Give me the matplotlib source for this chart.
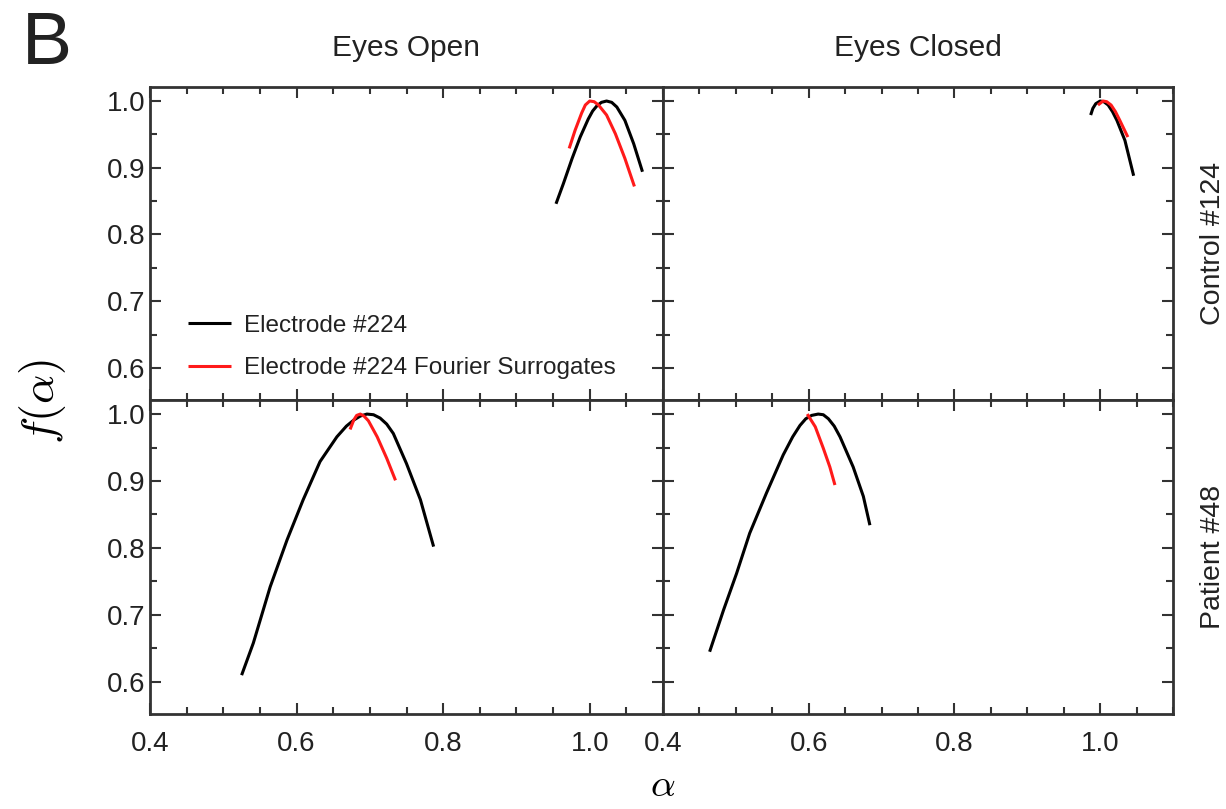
import matplotlib
matplotlib.use("Agg")
import matplotlib.pyplot as plt
from matplotlib.ticker import MultipleLocator

plt.rcParams['font.family'] = ['Liberation Sans', 'DejaVu Sans']
plt.rcParams['mathtext.fontset'] = 'cm'

col_titles = ["Eyes Open", "Eyes Closed"]
row_titles = ["Control #124", "Patient #48"]
legend_labels = ["Electrode #224", "Electrode #224 Fourier Surrogates"]

# Control, eyes open
c_eo_alpha = [0.954, 0.964, 0.976, 0.987, 0.998, 1.004, 1.010, 1.016, 1.023, 1.030, 1.037, 1.048, 1.060, 1.072]
c_eo_f = [0.846, 0.876, 0.914, 0.946, 0.973, 0.985, 0.993, 0.998, 1.000, 0.998, 0.991, 0.971, 0.936, 0.894]
c_eo_s_alpha = [0.972, 0.980, 0.989, 0.994, 1.000, 1.006, 1.012, 1.023, 1.035, 1.048, 1.061]
c_eo_s_f = [0.929, 0.956, 0.982, 0.994, 1.000, 0.999, 0.994, 0.979, 0.951, 0.914, 0.872]
# Control, eyes closed
c_ec_alpha = [0.987, 0.990, 0.994, 1.000, 1.005, 1.011, 1.017, 1.023, 1.034, 1.046]
c_ec_f = [0.979, 0.989, 0.996, 1.000, 0.999, 0.994, 0.984, 0.971, 0.941, 0.888]
c_ec_s_alpha = [0.997, 1.004, 1.009, 1.015, 1.021, 1.027, 1.038]
c_ec_s_f = [0.994, 1.000, 0.999, 0.994, 0.984, 0.971, 0.946]
# Patient, eyes open
p_eo_alpha = [0.525, 0.541, 0.564, 0.587, 0.609, 0.632, 0.655, 0.668, 0.678, 0.687, 0.696, 0.705, 0.714, 0.723, 0.732, 0.750, 0.769, 0.787]
p_eo_f = [0.610, 0.658, 0.742, 0.812, 0.872, 0.929, 0.966, 0.982, 0.991, 0.997, 1.000, 0.999, 0.994, 0.985, 0.971, 0.926, 0.872, 0.802]
p_eo_s_alpha = [0.673, 0.678, 0.682, 0.687, 0.692, 0.698, 0.710, 0.723, 0.735]
p_eo_s_f = [0.977, 0.991, 0.998, 1.000, 0.997, 0.990, 0.966, 0.934, 0.901]
# Patient, eyes closed
p_ec_alpha = [0.464, 0.483, 0.501, 0.519, 0.542, 0.565, 0.578, 0.588, 0.596, 0.604, 0.613, 0.620, 0.627, 0.635, 0.643, 0.661, 0.675, 0.684]
p_ec_f = [0.645, 0.707, 0.762, 0.822, 0.882, 0.939, 0.966, 0.983, 0.993, 0.998, 1.000, 0.999, 0.993, 0.982, 0.966, 0.921, 0.877, 0.834]
p_ec_s_alpha = [0.598, 0.609, 0.620, 0.629, 0.636]
p_ec_s_f = [1.000, 0.981, 0.949, 0.921, 0.894]

data = [[(c_eo_alpha, c_eo_f, c_eo_s_alpha, c_eo_s_f), (c_ec_alpha, c_ec_f, c_ec_s_alpha, c_ec_s_f)],
        [(p_eo_alpha, p_eo_f, p_eo_s_alpha, p_eo_s_f), (p_ec_alpha, p_ec_f, p_ec_s_alpha, p_ec_s_f)]]

W, H = 1226, 809
fig = plt.figure(figsize=(W/100, H/100), dpi=100)

xs = [150, 663, 1173]
ys = [87, 400, 714]
spine_col = '#333333'
txt_col = '#222222'
axes = []
for r in range(2):
    for c in range(2):
        left = xs[c] / W
        width = (xs[c+1] - xs[c]) / W
        bottom = 1 - ys[r+1] / H
        height = (ys[r+1] - ys[r]) / H
        ax = fig.add_axes([left, bottom, width, height])
        a, f, sa, sf = data[r][c]
        ax.plot(a, f, color='black', lw=2.2, solid_capstyle='butt',
                solid_joinstyle='round', label=legend_labels[0])
        ax.plot(sa, sf, color='#ff1a1a', lw=2.2, solid_capstyle='butt',
                solid_joinstyle='round', label=legend_labels[1])
        ax.set_xlim(0.4, 1.1)
        ax.set_ylim(0.552, 1.021)
        ax.xaxis.set_major_locator(MultipleLocator(0.2))
        ax.xaxis.set_minor_locator(MultipleLocator(0.05))
        ax.yaxis.set_major_locator(MultipleLocator(0.1))
        ax.yaxis.set_minor_locator(MultipleLocator(0.05))
        ax.xaxis.set_major_formatter(plt.FormatStrFormatter('%.1f'))
        ax.yaxis.set_major_formatter(plt.FormatStrFormatter('%.1f'))
        ax.tick_params(which='both', direction='in', top=True, right=True, color=spine_col, width=1.5)
        ax.tick_params(which='major', length=8, labelsize=20, labelcolor=txt_col)
        ax.tick_params(axis='x', which='major', pad=12)
        ax.tick_params(axis='y', which='major', pad=3)
        ax.tick_params(which='minor', length=5)
        for s in ax.spines.values():
            s.set_linewidth(2.0)
            s.set_color(spine_col)
        if r == 0:
            ax.tick_params(labelbottom=False)
        if c == 1:
            ax.tick_params(labelleft=False)
        if r == 0:
            ax.set_title(col_titles[c], fontsize=21.5, pad=22, color=txt_col)
        axes.append(ax)

for r in range(2):
    yc = 1 - (ys[r] + ys[r+1]) / 2 / H
    fig.text(1213/W, yc, row_titles[r], rotation=90, ha='center', va='center',
             fontsize=20.5, color=txt_col)

leg = axes[0].legend(loc='center left', bbox_to_anchor=((188 - 150) / 513, (400 - 347) / 313),
                     frameon=False, fontsize=17.5, handlelength=1.77, labelspacing=0.85,
                     handletextpad=0.53, borderpad=0, borderaxespad=0)
for t in leg.get_texts():
    t.set_color(txt_col)

fig.text(47/W, 1 - 45/H, "B", fontsize=54, ha='center', va='center', color=txt_col)
fig.text(42/W, 1 - 402/H, r"$f(\alpha)$", fontsize=33, rotation=90, ha='center', va='center')
fig.text(663/W, 1 - 786/H, r"$\alpha$", fontsize=28, ha='center', va='center')

fig.savefig("out.png", dpi=100)
